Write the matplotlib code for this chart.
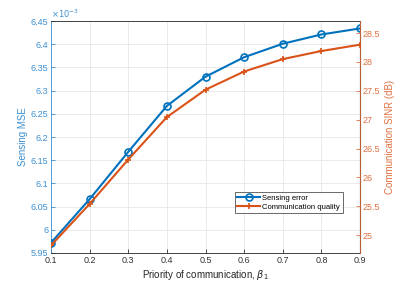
import numpy as np
import matplotlib
matplotlib.use('Agg')
import matplotlib.pyplot as plt

plt.rcParams['font.family'] = ['Liberation Sans', 'DejaVu Sans']

# ================= DATA =================
beta = [0.1, 0.2, 0.3, 0.4, 0.5, 0.6, 0.7, 0.8, 0.9]
mse_e3 = [5.972, 6.066, 6.168, 6.267, 6.330, 6.372, 6.401, 6.421, 6.434]   # x1e-3
sinr_db = [24.82, 25.54, 26.31, 27.045, 27.52, 27.835, 28.05, 28.19, 28.30]

x_ticks = [0.1, 0.2, 0.3, 0.4, 0.5, 0.6, 0.7, 0.8, 0.9]
left_ticks = [5.95, 6.0, 6.05, 6.1, 6.15, 6.2, 6.25, 6.3, 6.35, 6.4, 6.45]
right_ticks = [25, 25.5, 26, 26.5, 27, 27.5, 28, 28.5]

blue = '#0072BD'
orange = '#D95319'
blue_txt = '#3C8FD0'
orange_txt = '#E07040'

# ================= FIGURE =================
fig = plt.figure(figsize=(3.99, 2.84), dpi=100)
ax = fig.add_axes([0.1278, 0.1092, 0.7745, 0.8168])
ax2 = ax.twinx()

fs = 6.5

ax.plot(beta, mse_e3, color=blue, lw=1.5, marker='o', ms=5,
        mfc='none', mew=1.2, label='Sensing error', zorder=3)
ax2.plot(beta, sinr_db, color=orange, lw=1.5, marker='+', ms=4,
         mew=1.2, label='Communication quality', zorder=3)

ax.set_xlim(0.1, 0.9)
ax.set_ylim(5.95, 6.45)
ax2.set_ylim(24.69, 28.71)

ax.set_xticks(x_ticks)
ax.set_xticklabels([f'{v:g}' for v in x_ticks], fontsize=fs, color='#333333')
ax.set_yticks(left_ticks)
ax.set_yticklabels([f'{v:g}' for v in left_ticks], fontsize=fs, color=blue_txt)
ax2.set_yticks(right_ticks)
ax2.set_yticklabels([f'{v:g}' for v in right_ticks], fontsize=fs, color=orange_txt)

ax.grid(True, color='#E6E6E6', lw=0.6)
ax.set_axisbelow(True)

ax.tick_params(direction='in', length=3, width=0.6, pad=2)
ax2.tick_params(direction='in', length=3, width=0.6, pad=2)
ax.tick_params(axis='y', colors=blue_txt)
ax2.tick_params(axis='y', colors=orange_txt)
ax.tick_params(axis='x', colors='#333333')

for s in ['top', 'bottom']:
    ax.spines[s].set_color('#262626')
    ax.spines[s].set_linewidth(0.6)
ax.spines['left'].set_color(blue_txt)
ax.spines['left'].set_linewidth(0.6)
ax2.spines['right'].set_color(orange_txt)
ax2.spines['right'].set_linewidth(0.6)
ax2.spines['left'].set_visible(False)
ax2.spines['top'].set_visible(False)
ax2.spines['bottom'].set_visible(False)

ax.set_xlabel(r'Priority of communication, $\beta_1$', fontsize=7, color='#262626', labelpad=2)
ax.set_ylabel('Sensing MSE', fontsize=7, color=blue_txt, labelpad=2)
ax2.set_ylabel('Communication SINR (dB)', fontsize=7, color=orange_txt, labelpad=3)

ax.text(0.0, 1.005, r'$\times 10^{-3}$', transform=ax.transAxes, fontsize=6,
        color=blue_txt, ha='left', va='bottom')

h1, l1 = ax.get_legend_handles_labels()
h2, l2 = ax2.get_legend_handles_labels()
leg = ax2.legend(h1 + h2, l1 + l2, loc='upper left',
                 bbox_to_anchor=(0.594, 0.265), fontsize=5.5, frameon=True,
                 fancybox=False, edgecolor='#262626', borderpad=0.35,
                 handlelength=3.0, labelspacing=0.25, handletextpad=0.3,
                 borderaxespad=0)
leg.get_frame().set_linewidth(0.6)

fig.savefig('out.png', dpi=100)
